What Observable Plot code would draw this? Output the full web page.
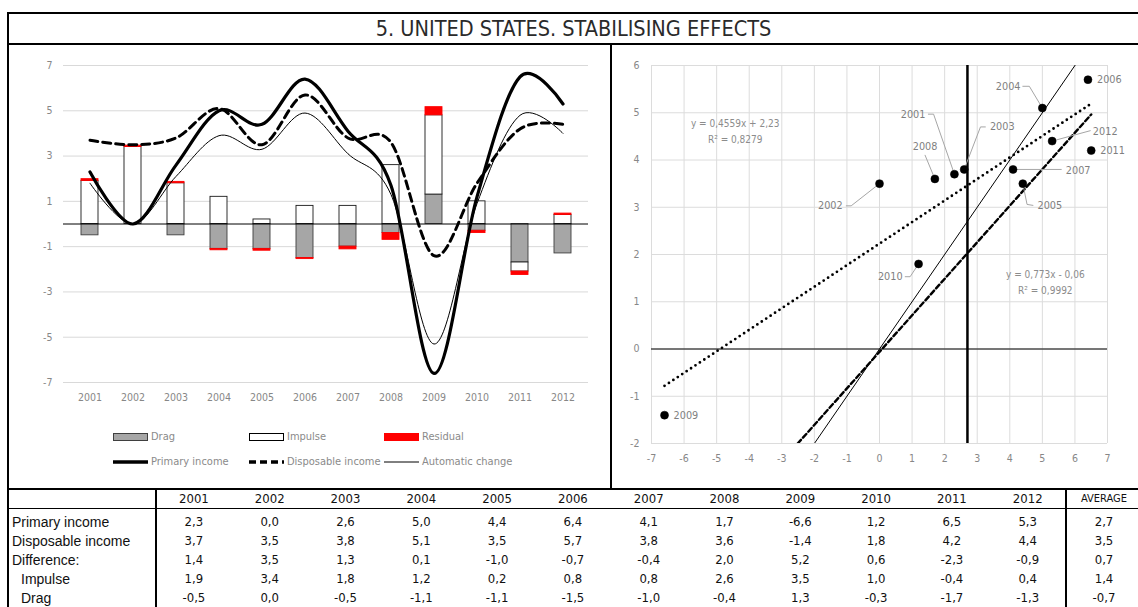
<!DOCTYPE html>
<html>
<head>
<meta charset="utf-8">
<title>United States – stabilising effects</title>
<script src="https://cdn.jsdelivr.net/npm/d3@7"></script>
<script src="https://cdn.jsdelivr.net/npm/@observablehq/plot@0.6"></script>
<style>
  html, body { margin: 0; padding: 0; background: #fff; }
  #page { position: relative; width: 1138px; height: 607px; overflow: hidden; background: #fff;
          font-family: "Liberation Sans Narrow", "Arial Narrow", "DejaVu Sans Condensed", sans-serif; }
  .abs { position: absolute; }
  .rule { position: absolute; background: #000; }
  #title { position: absolute; left: 9px; top: 14px; width: 1129px; height: 29px; line-height: 30px;
           text-align: center; font-size: 21.5px; color: #2a2a2a; white-space: nowrap; }
  .legend-text { position: absolute; font-size: 11px; color: #8a8a8a; line-height: 16px; white-space: nowrap; }
  .cell { position: absolute; color: #111; white-space: nowrap; line-height: 18px; height: 18px; }
  .num { font-size: 13px; text-align: center; }
  .lab { font-family: "Liberation Sans", Arial, sans-serif; font-size: 14px; }
</style>
</head>
<body>
<div id="page">
  <div class="abs" style="left:7px;top:12px;width:1160px;height:700px;border:2px solid #000;box-sizing:border-box"></div>
  <div class="rule" style="left:7px;top:43px;width:1160px;height:2px"></div>
  <div id="title">5. UNITED STATES. STABILISING EFFECTS</div>
  <div class="rule" style="left:610px;top:44px;width:2px;height:445px"></div>
  <div id="left" class="abs" style="left:10px;top:46px"></div>
  <div id="right" class="abs" style="left:612px;top:46px"></div>
  <div id="legend"></div>
  <div id="table"></div>
</div>
<script>
// ---- Data -----------------------------------------------------------------
const years            = [2001, 2002, 2003, 2004, 2005, 2006, 2007, 2008, 2009, 2010, 2011, 2012];
const primaryIncome    = [2.3, 0.0, 2.6, 5.0, 4.4, 6.4, 4.1, 1.7, -6.6, 1.2, 6.5, 5.3];
const disposableIncome = [3.7, 3.5, 3.8, 5.1, 3.5, 5.7, 3.8, 3.6, -1.4, 1.8, 4.2, 4.4];
const difference       = [1.4, 3.5, 1.3, 0.1, -1.0, -0.7, -0.4, 2.0, 5.2, 0.6, -2.3, -0.9];
const impulse          = [1.9, 3.4, 1.8, 1.2, 0.2, 0.8, 0.8, 2.6, 3.5, 1.0, -0.4, 0.4];
const drag             = [-0.5, 0.0, -0.5, -1.1, -1.1, -1.5, -1.0, -0.4, 1.3, -0.3, -1.7, -1.3];
const residual         = [0.08, 0.06, 0.06, -0.06, -0.08, -0.05, -0.12, -0.3, 0.36, -0.1, -0.15, 0.06];
const automaticChange  = [1.8, 0.0, 2.1, 3.9, 3.3, 4.9, 3.1, 1.3, -5.3, 0.9, 4.8, 4.0];
const averages         = [2.7, 3.5, 0.7, 1.4, -0.7];
const rowLabels        = ["Primary income", "Disposable income", "Difference:", "Impulse", "Drag"];
const averageLabel     = "AVERAGE";
const leftTicks        = [-7, -5, -3, -1, 1, 3, 5, 7];
const scatterXTicks    = [-7, -6, -5, -4, -3, -2, -1, 0, 1, 2, 3, 4, 5, 6, 7];
const scatterYTicks    = [-2, -1, 0, 1, 2, 3, 4, 5, 6];
const fitAll           = {slope: 0.4559, intercept: 2.23, r2: 0.8279};
const fitTrend         = {slope: 0.773, intercept: -0.06, r2: 0.9992};

// ---- Helpers ----------------------------------------------------------------
const NARROW = '"Liberation Sans Narrow", "Arial Narrow", "DejaVu Sans Condensed", sans-serif';
const comma = (v, d = 1) => v.toFixed(d).replace(".", ",");
const trim = (v) => String(v).replace(".", ",");
const equation = (f) => `y = ${trim(f.slope)}x ${f.intercept < 0 ? "-" : "+"} ${comma(Math.abs(f.intercept), 2)}`;

// ---- Left panel: stacked contributions + smoothed income lines -------------
const seriesStyle = {
  Drag:     {fill: "#a6a6a6", stroke: "#3f3f3f"},
  Impulse:  {fill: "#ffffff", stroke: "#1a1a1a"},
  Residual: {fill: "#ff0000", stroke: "#ff0000"}
};
const barRows = [];
[["Drag", drag], ["Impulse", impulse], ["Residual", residual]].forEach(([name, values]) =>
  years.forEach((yr, i) => barRows.push({year: String(yr), series: name, value: values[i]}))
);
const lineRows = years.map((yr, i) => ({
  year: String(yr), primary: primaryIncome[i], disposable: disposableIncome[i], auto: automaticChange[i]
}));

const left = Plot.plot({
  width: 600, height: 370,
  marginLeft: 53, marginRight: 22, marginTop: 19, marginBottom: 34,
  style: {fontFamily: NARROW, fontSize: "10.5px", color: "#878787", background: "transparent"},
  x: {type: "band", domain: years.map(String), paddingInner: 0.61, paddingOuter: 0.305,
      tickSize: 0, tickPadding: 11, label: null},
  y: {domain: [-7, 7], ticks: leftTicks, tickFormat: d => String(d), tickSize: 0, tickPadding: 11, label: null},
  color: {type: "identity"},
  marks: [
    Plot.ruleY(leftTicks, {stroke: "#d9d9d9", strokeWidth: 1}),
    Plot.barY(barRows, {
      x: "year", y: "value", z: "series",
      fill: d => seriesStyle[d.series].fill,
      stroke: d => seriesStyle[d.series].stroke,
      strokeWidth: 0.9
    }),
    Plot.ruleY([0], {stroke: "#000", strokeWidth: 1}),
    Plot.line(lineRows, {x: "year", y: "auto", curve: "cardinal", stroke: "#000", strokeWidth: 1}),
    Plot.line(lineRows, {x: "year", y: "disposable", curve: "cardinal", stroke: "#000", strokeWidth: 3,
                         strokeDasharray: "8 5"}),
    Plot.line(lineRows, {x: "year", y: "primary", curve: "cardinal", stroke: "#000", strokeWidth: 3.2})
  ]
});
document.getElementById("left").appendChild(left);

// Legend under the left panel
const legend = document.getElementById("legend");
const legendItems = [
  {label: "Drag", kind: "box", fill: "#a6a6a6", stroke: "#3f3f3f", x: 113, y: 437},
  {label: "Impulse", kind: "box", fill: "#fff", stroke: "#000", x: 249, y: 437},
  {label: "Residual", kind: "box", fill: "#ff0000", stroke: "#ff0000", x: 384, y: 437},
  {label: "Primary income", kind: "line", width: 3.5, dash: null, x: 113, y: 462},
  {label: "Disposable income", kind: "line", width: 3.5, dash: "7 4", x: 249, y: 462},
  {label: "Automatic change", kind: "line", width: 1, dash: null, x: 384, y: 462}
];
for (const it of legendItems) {
  const svg = d3.create("svg").attr("width", 36).attr("height", 12)
    .style("position", "absolute").style("left", `${it.x}px`).style("top", `${it.y - 6}px`);
  if (it.kind === "box") {
    svg.append("rect").attr("x", 0.5).attr("y", 2.5).attr("width", 34).attr("height", 7)
      .attr("fill", it.fill).attr("stroke", it.stroke);
  } else {
    svg.append("line").attr("x1", 0).attr("x2", 35).attr("y1", 6).attr("y2", 6)
      .attr("stroke", "#000").attr("stroke-width", it.width)
      .attr("stroke-dasharray", it.dash);
  }
  legend.appendChild(svg.node());
  const t = document.createElement("div");
  t.className = "legend-text";
  t.style.left = `${it.x + 38}px`;
  t.style.top = `${it.y - 8}px`;
  t.textContent = it.label;
  legend.appendChild(t);
}

// ---- Right panel: disposable vs primary income -------------------------------
const points = years.map((yr, i) => ({year: yr, x: primaryIncome[i], y: disposableIncome[i]}));
const pointOf = Object.fromEntries(points.map(p => [p.year, p]));
const xSpan = d3.extent(primaryIncome);
const fitLine = f => xSpan.map(x => ({x, y: f.slope * x + f.intercept}));
const diagonal = xSpan.map(x => ({x, y: x}));

// Year tags: where each tag sits (data units) and the bend points of its leader
const tagLayout = [
  {year: 2001, anchor: "end",    at: [1.41, 4.97], bend: [[1.50, 4.97], [1.66, 4.97]]},
  {year: 2002, anchor: "end",    at: [-1.13, 3.03], bend: [[-1.02, 3.03], [-0.87, 3.03]]},
  {year: 2003, anchor: "start",  at: [3.39, 4.70], bend: [[3.25, 4.70], [3.10, 4.70]]},
  {year: 2004, anchor: "end",    at: [4.33, 5.55], bend: [[4.40, 5.56], [4.60, 5.56]]},
  {year: 2005, anchor: "start",  at: [4.85, 3.04], bend: [[4.71, 3.04], [4.53, 3.06]]},
  {year: 2007, anchor: "start",  at: [5.72, 3.78], bend: [[5.58, 3.80]]},
  {year: 2008, anchor: "middle", at: [1.40, 4.29], bend: [[1.40, 4.10]]},
  {year: 2010, anchor: "end",    at: [0.71, 1.53], bend: [[0.79, 1.53], [0.94, 1.53]]},
  {year: 2012, anchor: "start",  at: [6.55, 4.61], bend: [[6.47, 4.62]]}
];
const plainTags = [2006, 2009, 2011];
const leaderRows = tagLayout.flatMap(t =>
  [...t.bend, [pointOf[t.year].x, pointOf[t.year].y]].map(([x, y]) => ({year: t.year, x, y}))
);
const tagText = anchor => Plot.text(tagLayout.filter(t => t.anchor === anchor), {
  x: t => t.at[0], y: t => t.at[1], text: t => String(t.year),
  textAnchor: anchor, fill: "#7f7f7f", fontSize: 10.8
});
const equationRows = [
  {x: -4.43, y: 4.77, text: equation(fitAll)},
  {x: -4.43, y: 4.43, text: `R² = ${comma(fitAll.r2, 4)}`},
  {x: 5.09, y: 1.56, text: equation(fitTrend)},
  {x: 5.09, y: 1.23, text: `R² = ${comma(fitTrend.r2, 4)}`}
];

const right = Plot.plot({
  width: 526, height: 430,
  marginLeft: 39, marginRight: 31, marginTop: 19, marginBottom: 33,
  style: {fontFamily: NARROW, fontSize: "10.5px", color: "#878787", background: "transparent"},
  x: {domain: [-7, 7], ticks: scatterXTicks, tickFormat: d => String(d), tickSize: 0, tickPadding: 11, label: null},
  y: {domain: [-2, 6], ticks: scatterYTicks, tickFormat: d => String(d), tickSize: 0, tickPadding: 12, label: null},
  marks: [
    Plot.ruleX(scatterXTicks, {stroke: "#dcdcdc", strokeWidth: 1}),
    Plot.ruleY(scatterYTicks, {stroke: "#dcdcdc", strokeWidth: 1}),
    Plot.ruleY([0], {stroke: "#000", strokeWidth: 1}),
    Plot.ruleX([averages[0]], {stroke: "#000", strokeWidth: 2.5}),
    Plot.line(fitLine(fitAll), {x: "x", y: "y", stroke: "#000", strokeWidth: 2.8,
      strokeDasharray: "0 5.3", strokeLinecap: "round", clip: true}),
    Plot.line(fitLine(fitTrend), {x: "x", y: "y", stroke: "#000", strokeWidth: 2.4,
      strokeDasharray: "5 3", clip: true}),
    Plot.line(diagonal, {x: "x", y: "y", stroke: "#000", strokeWidth: 1, clip: true}),
    Plot.line(leaderRows, {x: "x", y: "y", z: "year", stroke: "#a6a6a6", strokeWidth: 1}),
    Plot.dot(points, {x: "x", y: "y", r: 4, fill: "#000", stroke: "#000", strokeWidth: 0.5}),
    tagText("start"), tagText("end"), tagText("middle"),
    Plot.text(points.filter(p => plainTags.includes(p.year)), {
      x: "x", y: "y", text: p => String(p.year), dx: 9, textAnchor: "start", fill: "#7f7f7f", fontSize: 10.8
    }),
    Plot.text(equationRows, {x: "x", y: "y", text: "text", fill: "#8c8c8c", fontSize: 10})
  ]
});
document.getElementById("right").appendChild(right);

// ---- Table ------------------------------------------------------------------
const table = document.getElementById("table");
const addRule = (l, t, w, h) => {
  const d = document.createElement("div");
  d.className = "rule";
  Object.assign(d.style, {left: `${l}px`, top: `${t}px`, width: `${w}px`, height: `${h}px`});
  table.appendChild(d);
};
addRule(7, 488, 1160, 2);   // top of table
addRule(9, 508, 1160, 1);   // under the header
addRule(155, 489, 2, 130);  // after the label column
addRule(1065, 489, 2, 130); // before the averages

const colW = 75.8, col0 = 156;
const addCell = (text, cls, left, width, center, extra = {}) => {
  const d = document.createElement("div");
  d.className = `cell ${cls}`;
  d.textContent = text;
  Object.assign(d.style, {left: `${left}px`, top: `${center - 9}px`}, width ? {width: `${width}px`} : {}, extra);
  table.appendChild(d);
};
const headerY = 498.5;
years.forEach((yr, i) => addCell(String(yr), "num", col0 + colW * i, colW, headerY));
addCell(averageLabel, "num", 1067, 74, headerY, {fontSize: "11px"});

const tableRows = [primaryIncome, disposableIncome, difference, impulse, drag];
tableRows.forEach((values, r) => {
  const cy = 521.5 + 19.1 * r;
  addCell(rowLabels[r], "lab", r >= 3 ? 21 : 12, null, cy);
  values.forEach((v, i) => addCell(comma(v), "num", col0 + colW * i, colW, cy));
  addCell(comma(averages[r]), "num", 1067, 74, cy);
});
</script>
</body>
</html>
